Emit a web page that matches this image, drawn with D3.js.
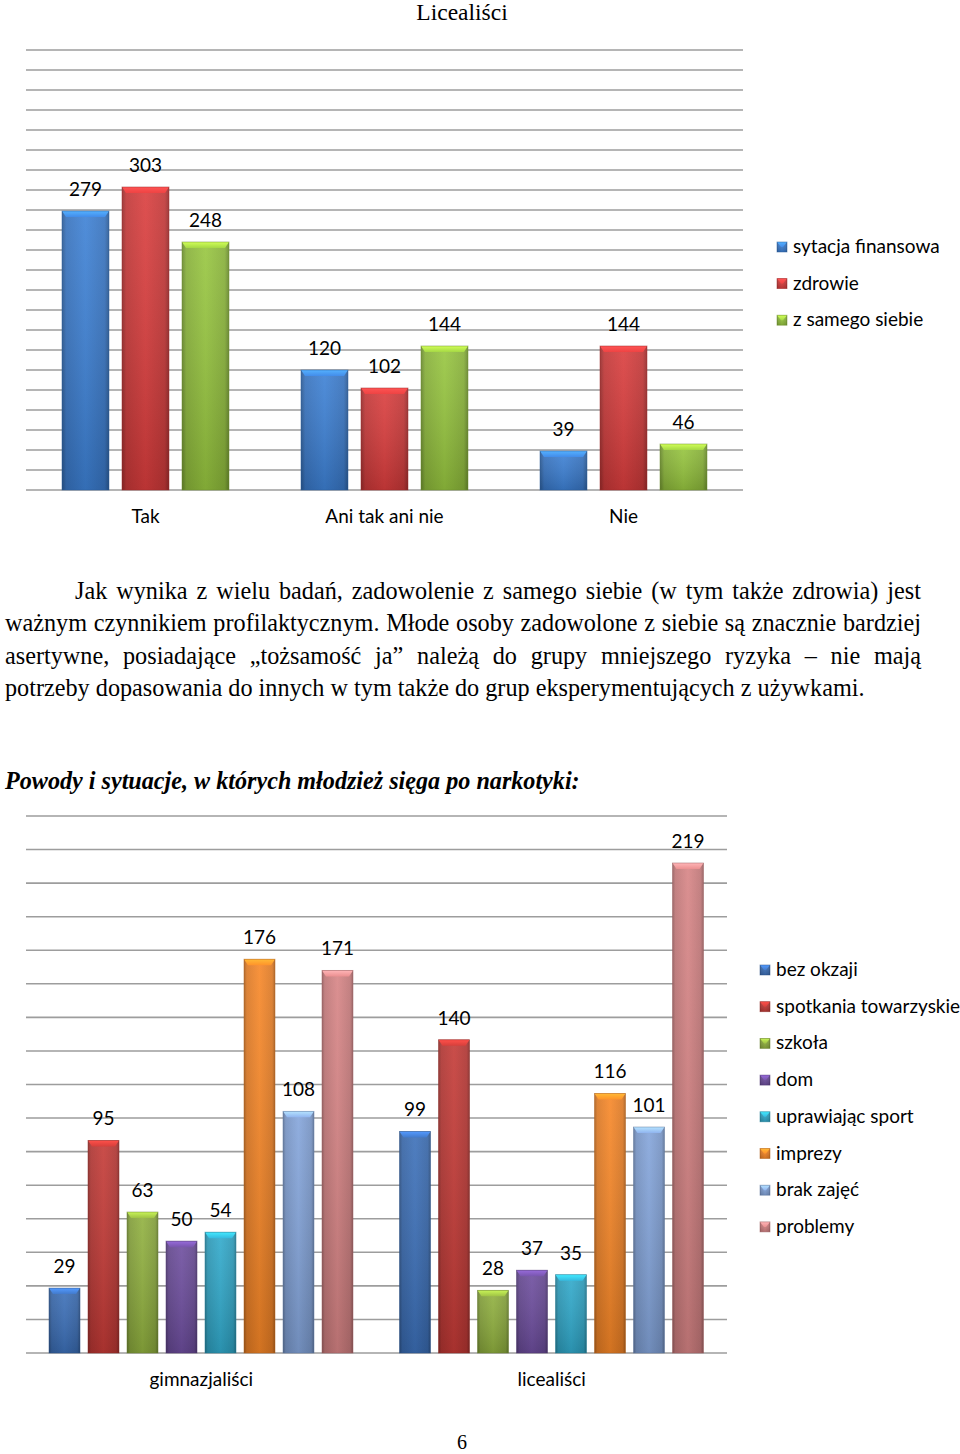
<!DOCTYPE html>
<html><head><meta charset="utf-8">
<script src="https://cdn.jsdelivr.net/npm/d3@7"></script>
<style>
html,body{margin:0;padding:0;background:#fff;}
svg{display:block;}
</style></head>
<body>
<svg id="page" width="960" height="1454"></svg>
<script>
// ---------- DATA ----------
const topTitle = "Licealiści";
const topCategories = ["Tak", "Ani tak ani nie", "Nie"];
const topSeries = ["sytacja finansowa", "zdrowie", "z samego siebie"];
const topFinanse = [279, 120, 39];
const topZdrowie = [303, 102, 144];
const topSiebie = [248, 144, 46];
const topColors = ["#3b7cce", "#d23b3b", "#92bf3d"];

const botCategories = ["gimnazjaliści", "licealiści"];
const botSeries = ["bez okzaji", "spotkania towarzyskie", "szkoła", "dom", "uprawiając sport", "imprezy", "brak zajęć", "problemy"];
const botGimn = [29, 95, 63, 50, 54, 176, 108, 171];
const botLic = [99, 140, 28, 37, 35, 116, 101, 219];
const botColors = ["#3a6cb3", "#bd3834", "#8cab3d", "#6a4b99", "#2fa4c5", "#ee8226", "#7f9fd3", "#cf7f80"];

const paraLines = [
  "Jak wynika z wielu badań, zadowolenie z samego siebie (w tym także zdrowia) jest",
  "ważnym czynnikiem profilaktycznym. Młode osoby zadowolone z siebie są znacznie bardziej",
  "asertywne, posiadające „tożsamość ja” należą do grupy mniejszego ryzyka – nie mają",
  "potrzeby dopasowania do innych w tym także do grup eksperymentujących z używkami."
];
const heading = "Powody i sytuacje, w których młodzież sięga po narkotyki:";
const pageNumber = "6";

// ---------- SETUP ----------
const svg = d3.select("#page");
const defs = svg.append("defs");
const SANS = "Lato, 'Open Sans', sans-serif";
const SERIF = "'Liberation Serif', 'DejaVu Serif', serif";
const LBL = 19;

function makeGradients(colors, prefix) {
  colors.forEach((c, i) => {
    const base = d3.color(c);
    const g = defs.append("linearGradient").attr("id", prefix + "h" + i)
      .attr("x1", 0).attr("x2", 1).attr("y1", 0).attr("y2", 0);
    g.append("stop").attr("offset", "0%").attr("stop-color", base.darker(1.0));
    g.append("stop").attr("offset", "9%").attr("stop-color", base.darker(0.25));
    g.append("stop").attr("offset", "50%").attr("stop-color", base.brighter(0.1));
    g.append("stop").attr("offset", "91%").attr("stop-color", base.darker(0.25));
    g.append("stop").attr("offset", "100%").attr("stop-color", base.darker(1.0));
    const v = defs.append("linearGradient").attr("id", prefix + "v" + i)
      .attr("x1", 0).attr("x2", 0).attr("y1", 0).attr("y2", 1);
    v.append("stop").attr("offset", "0%").attr("stop-color", "#fff").attr("stop-opacity", 0.1);
    v.append("stop").attr("offset", "100%").attr("stop-color", "#000").attr("stop-opacity", 0.15);
    const t = defs.append("linearGradient").attr("id", prefix + "t" + i)
      .attr("x1", 0).attr("x2", 0).attr("y1", 0).attr("y2", 1);
    t.append("stop").attr("offset", "0%").attr("stop-color", base.brighter(1.0));
    t.append("stop").attr("offset", "100%").attr("stop-color", base.brighter(0.35));
  });
}
makeGradients(topColors, "tp");
makeGradients(botColors, "bt");

function drawBar(g, x, y, w, h, prefix, i, color) {
  g.append("rect").attr("x", x).attr("y", y).attr("width", w).attr("height", h)
    .attr("fill", `url(#${prefix}h${i})`);
  g.append("rect").attr("x", x).attr("y", y).attr("width", w).attr("height", h)
    .attr("fill", `url(#${prefix}v${i})`);
  const b = Math.min(6, h / 2);
  g.append("path")
    .attr("d", `M${x},${y}L${x + w},${y}L${x + w - 4},${y + b}L${x + 4},${y + b}Z`)
    .attr("fill", `url(#${prefix}t${i})`);
  g.append("rect").attr("x", x).attr("y", y).attr("width", w).attr("height", h)
    .attr("fill", "none").attr("stroke", d3.color(color).darker(0.8))
    .attr("stroke-width", 0.8).attr("stroke-opacity", 0.6);
}

// ---------- TOP CHART ----------
svg.append("text").attr("x", 462).attr("y", 20).attr("text-anchor", "middle")
  .attr("font-family", SERIF).attr("font-size", 23.5).attr("fill", "#000").text(topTitle);

const topValues = topCategories.map((c, ci) => [topFinanse[ci], topZdrowie[ci], topSiebie[ci]]);
const tx0 = d3.scaleBand().domain(topCategories).range([26, 743]).padding(0);
const tx1 = d3.scaleBand().domain(topSeries).range([36, 203]).paddingInner(0.2167).paddingOuter(0);
const ty = d3.scaleLinear().domain([0, 440]).range([490, 50]);

svg.append("g").selectAll("line").data(d3.range(0, 441, 20)).join("line")
  .attr("x1", 26).attr("x2", 743).attr("y1", d => ty(d)).attr("y2", d => ty(d))
  .attr("stroke", "#9d9d9d").attr("stroke-width", 1.6);

const tBars = svg.append("g");
topCategories.forEach((c, ci) => {
  topSeries.forEach((s, si) => {
    const v = topValues[ci][si];
    const x = tx0(c) + tx1(s), w = tx1.bandwidth();
    drawBar(tBars, x, ty(v), w, ty(0) - ty(v), "tp", si, topColors[si]);
    tBars.append("text").attr("x", x + w / 2).attr("y", ty(v) - 15)
      .attr("text-anchor", "middle").attr("font-family", SANS).attr("font-size", LBL)
      .attr("fill", "#000").text(v);
  });
  svg.append("text").attr("x", tx0(c) + tx0.bandwidth() / 2).attr("y", 523)
    .attr("text-anchor", "middle").attr("font-family", SANS).attr("font-size", LBL)
    .attr("fill", "#000").text(c);
});

const tLeg = svg.append("g");
topSeries.forEach((s, si) => {
  const y = 247 + si * 36.6;
  drawBar(tLeg, 777, y - 5, 10, 10, "tp", si, topColors[si]);
  tLeg.append("text").attr("x", 793).attr("y", y + 6).attr("font-family", SANS)
    .attr("font-size", LBL).attr("fill", "#000").text(s);
});

// ---------- PARAGRAPH ----------
const paraX = [75, 5, 5, 5];
const paraRight = 921;
const paraY = [599, 631, 664, 696];
// fit font size so that the last (unjustified) line spans its width in the reference
const probe = svg.append("text").attr("font-family", SERIF).attr("font-size", 24).text(paraLines[3]);
const paraSize = 24 * 860 / probe.node().getComputedTextLength();
probe.remove();
paraLines.forEach((line, i) => {
  const t = svg.append("text").attr("x", paraX[i]).attr("y", paraY[i])
    .attr("font-family", SERIF).attr("font-size", paraSize).attr("fill", "#000")
    .attr("xml:space", "preserve").text(line);
  if (i < paraLines.length - 1) {
    const len = t.node().getComputedTextLength();
    const spaces = (line.match(/ /g) || []).length;
    t.attr("word-spacing", (paraRight - paraX[i] - len) / spaces);
  }
});

const hd = svg.append("text").attr("x", 5).attr("y", 789).attr("font-family", SERIF)
  .attr("font-size", 24).attr("font-weight", "bold").attr("font-style", "italic")
  .attr("fill", "#000").text(heading);
hd.attr("font-size", 24 * 575 / hd.node().getComputedTextLength());

// ---------- BOTTOM CHART ----------
const botValues = [botGimn, botLic];
const bx0 = d3.scaleBand().domain(botCategories).range([26, 727]).padding(0);
const bx1 = d3.scaleBand().domain(botSeries).range([23, 327]).paddingInner(0.205).paddingOuter(0);
const by = d3.scaleLinear().domain([0, 240]).range([1353, 816]);

svg.append("g").selectAll("line").data(d3.range(0, 241, 15)).join("line")
  .attr("x1", 26).attr("x2", 727).attr("y1", d => by(d)).attr("y2", d => by(d))
  .attr("stroke", "#9d9d9d").attr("stroke-width", 1.6);

const bBars = svg.append("g");
botCategories.forEach((c, ci) => {
  botSeries.forEach((s, si) => {
    const v = botValues[ci][si];
    const x = bx0(c) + bx1(s), w = bx1.bandwidth();
    drawBar(bBars, x, by(v), w, by(0) - by(v), "bt", si, botColors[si]);
    bBars.append("text").attr("x", x + w / 2).attr("y", by(v) - 15)
      .attr("text-anchor", "middle").attr("font-family", SANS).attr("font-size", LBL)
      .attr("fill", "#000").text(v);
  });
  svg.append("text").attr("x", bx0(c) + bx0.bandwidth() / 2).attr("y", 1386)
    .attr("text-anchor", "middle").attr("font-family", SANS).attr("font-size", LBL)
    .attr("fill", "#000").text(c);
});

const bLeg = svg.append("g");
botSeries.forEach((s, si) => {
  const y = 970 + si * 36.7;
  drawBar(bLeg, 760, y - 5, 10, 10, "bt", si, botColors[si]);
  bLeg.append("text").attr("x", 776).attr("y", y + 6).attr("font-family", SANS)
    .attr("font-size", LBL).attr("fill", "#000").text(s);
});

svg.append("text").attr("x", 462).attr("y", 1449).attr("text-anchor", "middle")
  .attr("font-family", SERIF).attr("font-size", 20).attr("fill", "#000").text(pageNumber);
</script>
</body></html>
